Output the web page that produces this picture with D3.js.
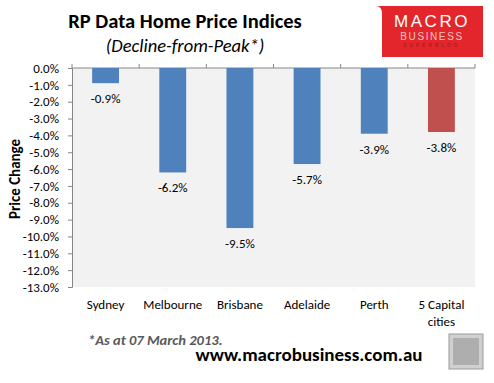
<!doctype html>
<html lang="en">
<head>
<meta charset="UTF-8">
<title>RP Data Home Price Indices</title>
<style>
  body { margin: 0; background: #fff; }
  svg text { font-family: Calibri, Carlito, "Open Sans", "DejaVu Sans", sans-serif; }
</style>
</head>
<body>
<svg id="chart" width="494" height="383"></svg>
<script src="https://cdn.jsdelivr.net/npm/d3@7"></script>
<script>
var cities = ['Sydney', 'Melbourne', 'Brisbane', 'Adelaide', 'Perth', '5 Capital cities'];
var declines = [-0.9, -6.2, -9.5, -5.7, -3.9, -3.8];
var yTicks = d3.range(0, -14, -1);

var svg = d3.select('#chart');
var plotL = 72, plotR = 475, plotT = 68, plotB = 287;

var x = d3.scaleBand().domain(cities).range([plotL, plotR]).paddingInner(0.6).paddingOuter(0.3);
var y = d3.scaleLinear().domain([0, -13]).range([plotT, plotB]);

function pct(v) { return v.toFixed(1) + '%'; }

// plot area
svg.append('rect').attr('x', plotL).attr('y', plotT)
    .attr('width', plotR - plotL).attr('height', plotB - plotT)
    .attr('fill', '#f2f2f2');

// titles
svg.append('text').attr('x', 185).attr('y', 28).attr('text-anchor', 'middle')
    .attr('font-size', 20.5).attr('font-weight', 'bold').text('RP Data Home Price Indices');
svg.append('text').attr('x', 185).attr('y', 52).attr('text-anchor', 'middle')
    .attr('font-size', 18.5).attr('font-style', 'italic').text('(Decline-from-Peak*)');

// logo
var logo = svg.append('g');
logo.append('path')
    .attr('d', 'M384,6 H483 V57 H382 V14 Q382,6 376,6 Z')
    .attr('fill', '#e3262b');
logo.append('text').attr('x', 432).attr('y', 27).attr('text-anchor', 'middle')
    .attr('font-size', 17).attr('fill', '#fff').attr('letter-spacing', 2.5)
    .style('font-family', 'Arial, "Liberation Sans", sans-serif').text('MACRO');
logo.append('text').attr('x', 432).attr('y', 39.5).attr('text-anchor', 'middle')
    .attr('font-size', 10).attr('fill', '#f6c6c6').attr('letter-spacing', 1.6)
    .style('font-family', 'Arial, "Liberation Sans", sans-serif').text('BUSINESS');
logo.append('text').attr('x', 432).attr('y', 47).attr('text-anchor', 'middle')
    .attr('font-size', 4.5).attr('fill', '#9a1518').attr('letter-spacing', 3.3)
    .style('font-family', 'Arial, "Liberation Sans", sans-serif').text('SUPERBLOG');

// y axis
var yAxis = d3.axisLeft(y).tickValues(yTicks).tickSize(4).tickPadding(9)
    .tickFormat(pct);
var gy = svg.append('g').attr('transform', 'translate(' + plotL + ',0)').call(yAxis);
gy.select('.domain').attr('stroke', '#868686');
gy.selectAll('.tick line').attr('stroke', '#868686');
gy.selectAll('.tick text').attr('font-size', 13).attr('fill', '#000')
    .style('font-family', 'Calibri, Carlito, "Open Sans", sans-serif');

// top category axis (at zero)
var catW = (plotR - plotL) / cities.length;
svg.append('line').attr('x1', plotL).attr('x2', plotR).attr('y1', y(0)).attr('y2', y(0))
    .attr('stroke', '#868686');
svg.selectAll('.ctick').data(d3.range(cities.length + 1)).enter().append('line')
    .attr('x1', function(i) { return plotL + i * catW; })
    .attr('x2', function(i) { return plotL + i * catW; })
    .attr('y1', y(0)).attr('y2', y(0) - 4).attr('stroke', '#868686');

// bars
svg.selectAll('.bar').data(cities).enter().append('rect')
    .attr('x', function(d) { return x(d); })
    .attr('y', y(0))
    .attr('width', x.bandwidth())
    .attr('height', function(d, i) { return y(declines[i]) - y(0); })
    .attr('fill', function(d, i) { return i === cities.length - 1 ? '#c0504d' : '#4f81bd'; });

// value labels
svg.selectAll('.val').data(cities).enter().append('text')
    .attr('x', function(d) { return x(d) + x.bandwidth() / 2; })
    .attr('y', function(d, i) { return y(declines[i]) + 20; })
    .attr('text-anchor', 'middle').attr('font-size', 13)
    .text(function(d, i) { return pct(declines[i]); });

// category labels
svg.selectAll('.cat').data(cities).enter().append('text')
    .attr('x', function(d) { return x(d) + x.bandwidth() / 2; })
    .attr('y', 309)
    .attr('text-anchor', 'middle').attr('font-size', 13)
    .each(function(d) {
        var words = d === '5 Capital cities' ? ['5 Capital', 'cities'] : [d];
        var t = d3.select(this);
        words.forEach(function(w, k) {
            t.append('tspan').attr('x', t.attr('x')).attr('dy', k ? 17 : 0).text(w);
        });
    });

// y axis title
svg.append('text').attr('transform', 'translate(20,179) rotate(-90)')
    .attr('text-anchor', 'middle').attr('font-size', 15).attr('font-weight', 'bold')
    .text('Price Change');

// footnote
svg.append('text').attr('x', 88).attr('y', 345).attr('font-size', 14.5)
    .attr('font-weight', 'bold').attr('font-style', 'italic').attr('fill', '#595959')
    .text('*As at 07 March 2013.');
svg.append('text').attr('x', 309).attr('y', 361).attr('text-anchor', 'middle')
    .attr('font-size', 19).attr('font-weight', 'bold').text('www.macrobusiness.com.au');

// wolf badge placeholder
svg.append('rect').attr('x', 449).attr('y', 334).attr('width', 34).attr('height', 35)
    .attr('fill', '#d0d0d0').attr('stroke', '#9a9a9a');
svg.append('rect').attr('x', 453).attr('y', 338).attr('width', 26).attr('height', 27)
    .attr('fill', '#8c8c8c').attr('opacity', 0.5);
</script>
</body>
</html>
